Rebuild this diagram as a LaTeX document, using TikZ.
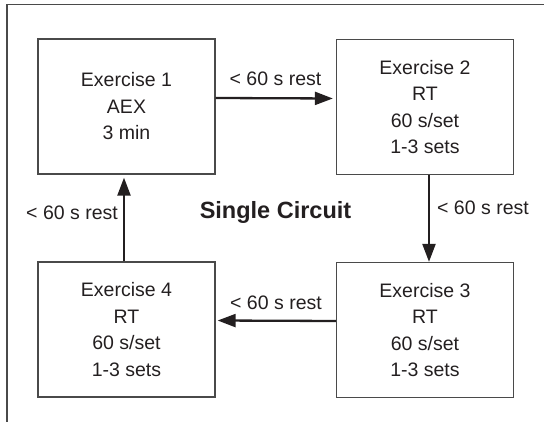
\documentclass[tikz,border=0pt]{standalone}
\usepackage{fontspec}
\setmainfont{Liberation Sans}
\usetikzlibrary{arrows.meta}
\definecolor{ink}{HTML}{231F20}
\definecolor{edge}{HTML}{4A4A4A}
\tikzset{
  exbox/.style={draw=edge, line width=1.3pt, minimum width=177pt, minimum height=135pt,
    align=center, text=ink, inner sep=0pt,
    font=\fontsize{19.5}{26.5}\selectfont},
  flow/.style={draw=ink, line width=2.3pt,
    -{Triangle[length=18pt,width=13pt]}},
  restlbl/.style={text=ink, inner sep=0pt, font=\fontsize{19.5}{24}\selectfont},
  frameline/.style={draw=edge, line width=1.4pt}
}
\begin{document}
\begin{tikzpicture}[x=1pt,y=-1pt]
  \useasboundingbox (0,0) rectangle (544,422);
  % open outer frame: top and left sides only
  \coordinate (fTL) at (7,4.5);
  \coordinate (fTR) at (544,4.5);
  \coordinate (fBL) at (7,422);
  \draw[frameline] (fTR) -- (fTL) -- (fBL);

  % the four exercise stations
  \node[exbox] (e1) at (126.5,106.5) {Exercise 1\\AEX\\3 min};
  \node[exbox] (e2) at (425,107) {Exercise 2\\RT\\60 s/set\\1-3 sets};
  \node[exbox] (e3) at (425,330) {Exercise 3\\RT\\60 s/set\\1-3 sets};
  \node[exbox] (e4) at (126.5,329.5) {Exercise 4\\RT\\60 s/set\\1-3 sets};

  % circuit transitions
  \draw[flow, shorten >=3pt] ([yshift=8.5pt]e1.east) -- ([yshift=8.5pt]e2.west);
  \draw[flow] ([xshift=4pt]e2.south) -- ([xshift=4pt]e3.north);
  \draw[flow, shorten >=2pt] ([yshift=9pt]e3.west) -- ([yshift=9pt]e4.east);
  \draw[flow, shorten >=3pt] ([xshift=-2.5pt]e4.north) -- ([xshift=-2.5pt]e1.south);

  % rest labels
  \node[restlbl, anchor=base] (r12) at (275.5,86) {< 60 s rest};
  \node[restlbl, anchor=base west] (r23) at (437,215) {< 60 s rest};
  \node[restlbl, anchor=base] (r34) at (276,309) {< 60 s rest};
  \node[restlbl, anchor=base east] (r41) at (118,220) {< 60 s rest};

  % centre title
  \node[text=ink, inner sep=0pt, anchor=base, font=\fontsize{23.5}{28}\selectfont\bfseries]
    (title) at (275.5,219) {Single Circuit};
\end{tikzpicture}
\end{document}
